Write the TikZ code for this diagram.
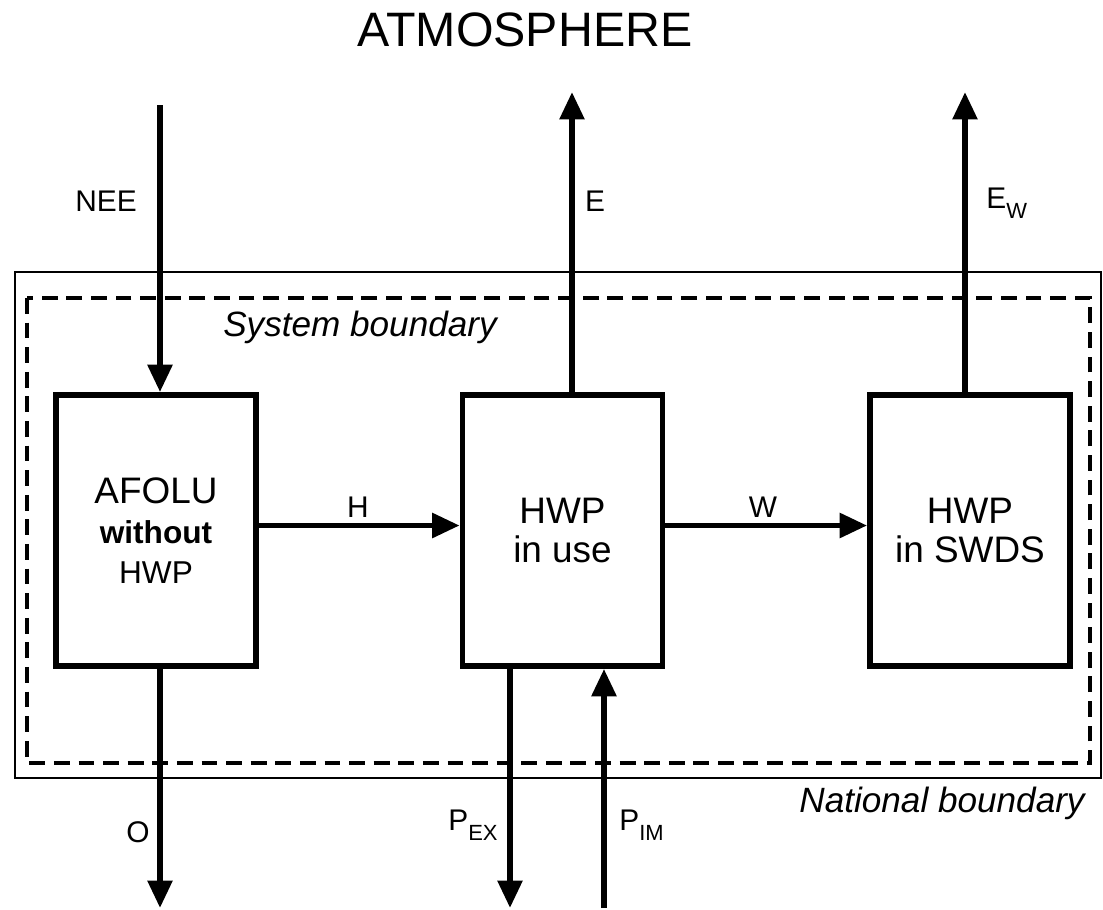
\documentclass[tikz,border=0pt]{standalone}
\usepackage{fontspec}
\setmainfont{Liberation Sans}
\usepackage{tikz}
\usetikzlibrary{arrows.meta, positioning, calc}
\newcommand{\lowsub}[1]{\raisebox{-5.5pt}{\fontsize{12.5}{14}\selectfont #1}}

\begin{document}
\begin{tikzpicture}[x=0.02cm,y=-0.02cm,
  pool/.style={draw, line width=3.3pt, minimum width=4.0cm, minimum height=5.42cm,
    align=center, inner sep=0pt, font=\fontsize{21}{22.7}\selectfont},
  flow/.style={line width=3.3pt, -{Triangle[length=0.55cm,width=0.48cm]}},
  lbl/.style={font=\fontsize{17}{20}\selectfont, inner sep=0pt},
  bound/.style={font=\fontsize{20}{24}\selectfont\itshape, inner sep=0pt}]
\useasboundingbox (0,0) rectangle (1103,910);
\node[font=\fontsize{27.5}{32}\selectfont] (atmos) at (525,30) {ATMOSPHERE};
% boundaries
\draw[line width=0.8pt] (15,272) rectangle (1101,778);
\draw[line width=1.8pt, dash pattern=on 9pt off 5pt] (27,298) rectangle (1090,763);
\node[bound] (sysb) at (360,327) {System boundary};
\node[bound, anchor=east] (natb) at (1085,803) {National boundary};
% pools
\node[pool, font=\fontsize{18}{22.7}\selectfont] (afolu) at (156,530.5)
  {{\fontsize{21}{22.7}\selectfont AFOLU}\\ \textbf{without}\\ HWP};
\node[pool] (use) at (562.5,530.5) {HWP\\ in use};
\node[pool] (swds) at (970,530.5) {HWP\\ in SWDS};
% flows
\coordinate (neetop) at (160,105);
\coordinate (etop) at (572,92);
\coordinate (ewtop) at (965,92);
\coordinate (obot) at (160,908);
\coordinate (pexbot) at (510,908);
\coordinate (pimbot) at (604,908);
\draw[flow] (neetop) -- (neetop |- afolu.north);
\draw[flow] (etop |- use.north) -- (etop);
\draw[flow] (ewtop |- swds.north) -- (ewtop);
\draw[flow] ([yshift=0.1cm]afolu.east) -- ([yshift=0.1cm]use.west);
\draw[flow] ([yshift=0.1cm]use.east) -- ([yshift=0.1cm]swds.west);
\draw[flow] (obot |- afolu.south) -- (obot);
\draw[flow] (pexbot |- use.south) -- (pexbot);
\draw[flow] (pimbot) -- (pimbot |- use.south);
% labels
\node[lbl] (nee) at (106,201) {NEE};
\node[lbl] (e) at (595,201) {E};
\node[lbl, anchor=west] (ew) at (986,203) {E\lowsub{W}};
\node[lbl] (h) at (358,507) {H};
\node[lbl] (w) at (763,507) {W};
\node[lbl] (o) at (138,832) {O};
\node[lbl, anchor=west] (pex) at (448,825) {P\lowsub{EX}};
\node[lbl, anchor=west] (pim) at (619,825) {P\lowsub{IM}};
\end{tikzpicture}
\end{document}
